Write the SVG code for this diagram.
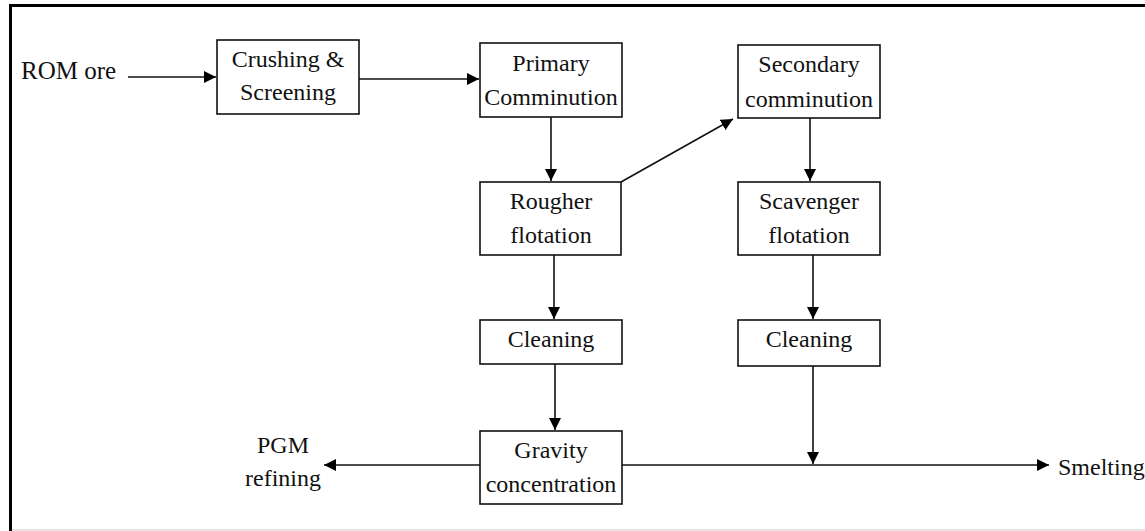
<svg xmlns="http://www.w3.org/2000/svg" width="1145" height="531" viewBox="0 0 1145 531">
<defs>
<marker id="ah" markerUnits="userSpaceOnUse" markerWidth="14" markerHeight="12" refX="12" refY="6" orient="auto">
<path d="M0,0 L12,6 L0,12 Z" fill="#000"/>
</marker>
<style>
.box{fill:#fff;stroke:#111;stroke-width:1.6}
.ca{stroke:#111;stroke-width:1.6;fill:none;marker-end:url(#ah)}
</style>
</defs>
<rect width="1145" height="531" fill="#fff"/>
<g id="frame">
<line x1="9" y1="5.5" x2="1145" y2="5.5" stroke="#000" stroke-width="3"/>
<line x1="10.5" y1="4" x2="10.5" y2="531" stroke="#000" stroke-width="3"/>
<line x1="12" y1="530" x2="1145" y2="530" stroke="#ddd" stroke-width="1.5"/>
</g>
<g id="connectors">
<line class="ca" x1="128" y1="77" x2="216" y2="77"/>
<line class="ca" x1="359" y1="79" x2="479" y2="79"/>
<line class="ca" x1="551" y1="117" x2="551" y2="181"/>
<line class="ca" x1="621" y1="182" x2="733" y2="119"/>
<line class="ca" x1="810" y1="118" x2="810" y2="181"/>
<line class="ca" x1="554" y1="255" x2="554" y2="319"/>
<line class="ca" x1="813" y1="255" x2="813" y2="319"/>
<line class="ca" x1="555" y1="364" x2="555" y2="430"/>
<line class="ca" x1="813" y1="366" x2="813" y2="464"/>
<line class="ca" x1="622" y1="465" x2="1049" y2="465"/>
<line class="ca" x1="480" y1="465" x2="324" y2="465"/>
</g>
<g font-size="24" fill="#111">
<g id="rom-ore"><text x="21" y="79" font-family="Liberation Serif" font-size="25">ROM ore</text></g>
<g text-anchor="middle">
<g id="crushing">
<rect class="box" x="217" y="40" width="142" height="74"/>
<text x="288" y="67" font-family="Liberation Serif">Crushing &amp;</text>
<text x="288" y="100" font-family="Liberation Serif">Screening</text>
</g>
<g id="primary">
<rect class="box" x="480" y="43" width="142" height="74"/>
<text x="551" y="71" font-family="Liberation Serif">Primary</text>
<text x="551" y="105" font-family="Liberation Serif">Comminution</text>
</g>
<g id="secondary">
<rect class="box" x="738" y="45" width="142" height="73"/>
<text x="809" y="72" font-family="Liberation Serif">Secondary</text>
<text x="809" y="107" font-family="Liberation Serif">comminution</text>
</g>
<g id="rougher">
<rect class="box" x="480" y="182" width="141" height="73"/>
<text x="551" y="209" font-family="Liberation Serif">Rougher</text>
<text x="551" y="243" font-family="Liberation Serif">flotation</text>
</g>
<g id="scavenger">
<rect class="box" x="738" y="182" width="142" height="73"/>
<text x="809" y="209" font-family="Liberation Serif">Scavenger</text>
<text x="809" y="243" font-family="Liberation Serif">flotation</text>
</g>
<g id="cleaning1">
<rect class="box" x="480" y="320" width="142" height="44"/>
<text x="551" y="347" font-family="Liberation Serif">Cleaning</text>
</g>
<g id="cleaning2">
<rect class="box" x="738" y="320" width="142" height="46"/>
<text x="809" y="347" font-family="Liberation Serif">Cleaning</text>
</g>
<g id="gravity">
<rect class="box" x="480" y="431" width="142" height="73"/>
<text x="551" y="458" font-family="Liberation Serif">Gravity</text>
<text x="551" y="492" font-family="Liberation Serif">concentration</text>
</g>
<g id="pgm">
<text x="283" y="453" font-family="Liberation Serif">PGM</text>
<text x="283" y="486" font-family="Liberation Serif">refining</text>
</g>
</g>
<g id="smelting"><text x="1058" y="475" font-family="Liberation Serif">Smelting</text></g>
</g>
</svg>
